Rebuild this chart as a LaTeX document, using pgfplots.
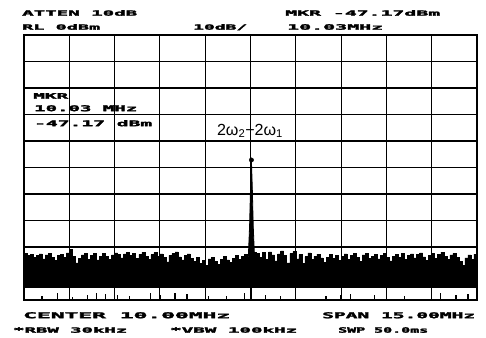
\documentclass[border=0pt]{standalone}
\usepackage{fontspec}
\usepackage{pgfplots}
\usepackage{graphicx}
\pgfplotsset{compat=1.18}
\newfontfamily\lcd[BoldFeatures={FakeBold=2.5}]{DejaVu Sans Mono}
\newfontfamily\lab{Liberation Sans}
\newcommand{\lt}[5]{\node[anchor=north west,inner sep=0pt] at ({#1pt},{337pt-#2pt}) {\resizebox{#3pt}{#4pt}{\lcd\bfseries #5}};}
\begin{document}
\begin{tikzpicture}
\path[use as bounding box] (0pt,0pt) rectangle (486pt,337pt);
\begin{axis}[at={(24pt,37pt)}, anchor=south west, scale only axis,
  width=453pt, height=265pt,
  xmin=2.5, xmax=17.5, ymin=-100, ymax=0,
  xtick={2.5,4,5.5,7,8.5,10,11.5,13,14.5,16,17.5},
  ytick={-100,-90,-80,-70,-60,-50,-40,-30,-20,-10,0},
  xticklabels={}, yticklabels={}, major tick length=0pt,
  grid=major, major grid style={black, line width=1.1pt},
  axis line style={black, line width=1.3pt}]
\addplot[black, fill=black, line width=0.5pt, const plot] coordinates {
(2.5,-82.5)(2.6,-83.2)(2.7,-82.8)(2.8,-84.0)(2.9,-83.1)(3.0,-82.6)(3.1,-84.5)(3.2,-83.0)(3.3,-82.4)(3.4,-83.8)
(3.5,-85.0)(3.6,-83.3)(3.7,-82.7)(3.8,-83.9)(3.9,-82.2)(4.0,-80.8)(4.1,-83.5)(4.2,-86.0)(4.3,-84.2)(4.4,-83.0)
(4.5,-82.4)(4.6,-84.6)(4.7,-83.1)(4.8,-82.5)(4.9,-84.9)(5.0,-83.6)(5.1,-82.3)(5.2,-83.4)(5.3,-84.8)(5.4,-83.0)
(5.5,-82.2)(5.6,-82.9)(5.7,-84.1)(5.8,-82.6)(5.9,-81.9)(6.0,-83.3)(6.1,-82.5)(6.2,-84.4)(6.3,-82.8)(6.4,-82.0)
(6.5,-83.5)(6.6,-84.7)(6.7,-82.9)(6.8,-82.1)(6.9,-83.4)(7.0,-82.6)(7.1,-84.0)(7.2,-85.6)(7.3,-83.2)(7.4,-82.5)
(7.5,-81.8)(7.6,-83.7)(7.7,-84.9)(7.8,-83.1)(7.9,-82.6)(8.0,-84.2)(8.1,-85.3)(8.2,-84.0)(8.3,-86.2)(8.4,-85.1)
(8.5,-86.8)(8.6,-84.5)(8.7,-83.9)(8.8,-85.4)(8.9,-86.5)(9.0,-84.7)(9.1,-83.6)(9.2,-84.9)(9.3,-85.8)(9.4,-84.3)
(9.5,-83.2)(9.6,-84.6)(9.7,-83.5)(9.8,-82.8)(9.9,-84.0)(10.0,-83.1)
(10.1,-82.0)(10.2,-82.4)(10.3,-83.9)(10.4,-82.1)(10.5,-84.6)(10.6,-81.8)(10.7,-83.0)(10.8,-85.2)(10.9,-82.6)
(11.0,-81.5)(11.1,-83.3)(11.2,-86.0)(11.3,-82.4)(11.4,-81.7)(11.5,-84.5)(11.6,-82.9)(11.7,-86.3)(11.8,-83.6)(11.9,-82.2)
(12.0,-84.8)(12.1,-83.5)(12.2,-82.7)(12.3,-84.1)(12.4,-85.7)(12.5,-83.8)(12.6,-82.9)(12.7,-84.4)(12.8,-83.2)(12.9,-85.1)
(13.0,-83.4)(13.1,-82.6)(13.2,-84.7)(13.3,-83.1)(13.4,-82.4)(13.5,-83.9)(13.6,-85.3)(13.7,-83.0)(13.8,-82.3)(13.9,-84.2)
(14.0,-83.6)(14.1,-82.8)(14.2,-84.5)(14.3,-83.3)(14.4,-82.5)(14.5,-84.0)(14.6,-85.2)(14.7,-83.4)(14.8,-82.7)(14.9,-83.9)
(15.0,-82.3)(15.1,-84.6)(15.2,-83.1)(15.3,-82.6)(15.4,-84.1)(15.5,-82.9)(15.6,-82.2)(15.7,-83.7)(15.8,-85.0)(15.9,-83.2)
(16.0,-82.5)(16.1,-84.3)(16.2,-82.8)(16.3,-81.9)(16.4,-83.5)(16.5,-84.8)(16.6,-83.0)(16.7,-82.4)(16.8,-83.9)(16.9,-85.4)
(17.0,-87.0)(17.1,-84.1)(17.2,-83.0)(17.3,-84.6)(17.4,-82.7)(17.5,-83.4)
(17.5,-95)(2.5,-95)};
\addplot[black, fill=black, line width=0.8pt] coordinates {(9.92,-86)(9.97,-72)(10.0,-58)(10.03,-47.17)(10.06,-58)(10.09,-72)(10.14,-86)};
\addplot[black, line width=1.3pt, unbounded coords=jump] coordinates {
(10.03,-95)(10.03,-100)(10.03,nan)
(3.1,-100)(3.1,-98.5)(3.1,nan)(3.6,-100)(3.6,-97.5)(3.6,nan)(4.1,-100)(4.1,-98.8)(4.1,nan)
(4.6,-100)(4.6,-98)(4.6,nan)(4.9,-100)(4.9,-97.3)(4.9,nan)(5.2,-100)(5.2,-97.8)(5.2,nan)
(5.6,-100)(5.6,-98.2)(5.6,nan)(6.0,-100)(6.0,-98.6)(6.0,nan)(6.7,-100)(6.7,-97.5)(6.7,nan)
(7.0,-100)(7.0,-98)(7.0,nan)(7.5,-100)(7.5,-97.4)(7.5,nan)(7.9,-100)(7.9,-97.8)(7.9,nan)
(8.6,-100)(8.6,-98.4)(8.6,nan)(9.2,-100)(9.2,-98.5)(9.2,nan)(9.8,-100)(9.8,-97.2)(9.8,nan)
(10.5,-100)(10.5,-98.3)(10.5,nan)(11.0,-100)(11.0,-98.6)(11.0,nan)(11.5,-100)(11.5,-98.2)(11.5,nan)
(12.5,-100)(12.5,-98.4)(12.5,nan)(13.0,-100)(13.0,-98.0)(13.0,nan)(13.3,-100)(13.3,-97.6)(13.3,nan)
(14.1,-100)(14.1,-98.2)(14.1,nan)(14.5,-100)(14.5,-97.6)(14.5,nan)(15.1,-100)(15.1,-98.6)(15.1,nan)
(16.0,-100)(16.0,-97.2)(16.0,nan)(16.3,-100)(16.3,-97.5)(16.3,nan)(16.8,-100)(16.8,-98.0)(16.8,nan)
(17.2,-100)(17.2,-97.8)};
\addplot[only marks, mark=*, mark size=2.2pt, black] coordinates {(10.03,-47.17)};
\end{axis}
\lt{22}{10}{115}{5.5}{ATTEN 10dB}
\lt{22}{24}{78}{5.5}{RL 0dBm}
\lt{193}{24}{54}{5.5}{10dB/}
\lt{285}{10}{155}{5.5}{MKR -47.17dBm}
\lt{287}{24}{96}{5.5}{10.03MHz}
\lt{23}{312}{207}{6}{CENTER 10.00MHz}
\lt{322}{312}{153}{6}{SPAN 15.00MHz}
\lt{13}{327}{114}{5.5}{*RBW 30kHz}
\lt{170}{327}{127}{5.5}{*VBW 100kHz}
\lt{338}{327}{90}{5.5}{SWP 50.0ms}
\lt{33}{93}{35}{5.5}{MKR}
\lt{34}{105}{103}{6}{10.03 MHz}
\lt{34}{120}{118}{6}{-47.17 dBm}
\node[inner sep=0pt] at (250pt,206pt) {\resizebox{66pt}{!}{\lab\fontsize{15}{15}\selectfont 2ω\textsubscript{2}−2ω\textsubscript{1}}};
\end{tikzpicture}
\end{document}
